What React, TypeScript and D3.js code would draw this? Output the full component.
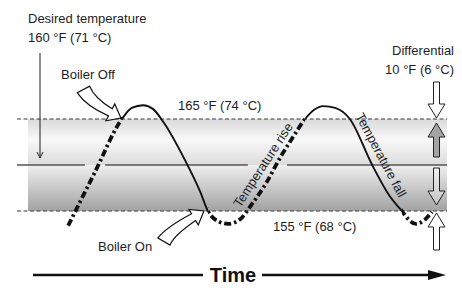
import * as d3 from "d3";

const W = 462,
  H = 288;

// water temperature trace: time (arbitrary units) and °F
const time = [
  11.9, 18.1, 24.4, 26.7, 29.3, 31.6, 34.0, 39.1, 42.6, 44.4, 46.7, 49.1, 51.9,
  54.7, 57.9, 61.2, 64.0, 67.0, 69.1, 71.2, 74.0, 77.4, 82.6, 86.7, 89.5, 91.2,
  92.8, 94.7, 96.5,
];
const temp = [
  153.4, 159.2, 165.0, 166.2, 166.5, 166.1, 164.7, 160.5, 157.1, 155.0, 153.9,
  153.6, 154.1, 155.8, 158.0, 160.8, 162.9, 165.0, 166.0, 166.4, 166.2, 165.0,
  160.0, 156.6, 155.0, 154.0, 153.6, 154.0, 154.9,
];
// boiler switches off at the high limit and back on at the low limit
const boilerOffAt = [24.4, 67.0];
const boilerOnAt = [44.4, 89.5];
const highLimit = 165;
const lowLimit = 155;
const setpoint = 160;
// where the setpoint line is broken (time units)
const midGaps = [
  [15.8, 20.5],
  [53.7, 62.8],
];

const x = d3.scaleLinear([0, 100], [17, 447]);
const y = d3.scaleLinear([lowLimit, highLimit], [211, 119]);

const font = "'Liberation Sans', Arial, Helvetica, sans-serif";
const ink = "#1e1e1e";

type Pt = [number, number];

const norm = (v: Pt): Pt => {
  const l = Math.hypot(v[0], v[1]);
  return [v[0] / l, v[1] / l];
};

// straight vertical block arrow, tip at `to`
function vArrow(cx: number, from: number, to: number, sw = 6, hw = 17, hl = 14) {
  const s = Math.sign(to - from);
  const b = to - s * hl;
  const p = d3.path();
  p.moveTo(cx - sw / 2, from);
  p.lineTo(cx - sw / 2, b);
  p.lineTo(cx - hw / 2, b);
  p.lineTo(cx, to);
  p.lineTo(cx + hw / 2, b);
  p.lineTo(cx + sw / 2, b);
  p.lineTo(cx + sw / 2, from);
  p.closePath();
  return p.toString();
}

// bent block arrow from a tail to a tip
function curvedArrow(
  tail: Pt,
  tailDir: Pt,
  tip: Pt,
  headDir: Pt,
  tailW: number,
  neckW: number,
  headW: number,
  headL: number
) {
  const dT = norm(tailDir);
  const dH = norm(headDir);
  const hb: Pt = [tip[0] - dH[0] * headL, tip[1] - dH[1] * headL];
  const r: Pt = [hb[0] - tail[0], hb[1] - tail[1]];
  const det = dT[0] * dH[1] - dT[1] * dH[0];
  const s = (r[0] * dH[1] - r[1] * dH[0]) / det;
  const c: Pt = [tail[0] + dT[0] * s, tail[1] + dT[1] * s];
  const nT: Pt = [-dT[1], dT[0]];
  const nH: Pt = [-dH[1], dH[0]];
  const nC = norm([nT[0] + nH[0], nT[1] + nH[1]]);
  const cosA = nC[0] * nT[0] + nC[1] * nT[1];
  const mc = (tailW + neckW) / 4 / cosA;
  const at = (o: Pt, n: Pt, k: number): [number, number] => [o[0] + n[0] * k, o[1] + n[1] * k];
  const p = d3.path();
  p.moveTo(...at(tail, nT, tailW / 2));
  p.quadraticCurveTo(...at(c, nC, mc), ...at(hb, nH, neckW / 2));
  p.lineTo(...at(hb, nH, headW / 2));
  p.lineTo(tip[0], tip[1]);
  p.lineTo(...at(hb, nH, -headW / 2));
  p.lineTo(...at(hb, nH, -neckW / 2));
  p.quadraticCurveTo(...at(c, nC, -mc), ...at(tail, nT, -tailW / 2));
  p.closePath();
  return p.toString();
}

export default function App() {
  const pts = time.map((t, i) => [x(t), y(temp[i])] as Pt);
  const trace = d3.line().curve(d3.curveMonotoneX)(pts) ?? "";

  const last = time[time.length - 1];
  const heating = [
    [0, boilerOffAt[0]],
    [boilerOnAt[0], boilerOffAt[1]],
    [boilerOnAt[1], last + 5],
  ];
  const cooling = boilerOffAt.map((t, i) => [t, boilerOnAt[i]]);

  const midSegs: number[][] = [];
  let s0 = 0;
  midGaps.forEach(([a, b]) => {
    midSegs.push([s0, a]);
    s0 = b;
  });
  midSegs.push([s0, 100]);

  const bandL = 28;
  const bandR = x(100);
  const yHi = y(highLimit);
  const yMid = y(setpoint);
  const yLo = y(lowLimit);

  const offTip: Pt = [x(boilerOffAt[0]) - 1, yHi - 1];
  const onTip: Pt = [x(boilerOnAt[0]) - 4, yLo];

  const axX = 436.5;
  const timeY = 275;

  return (
    <svg
      width={W}
      height={H}
      viewBox={`0 0 ${W} ${H}`}
      style={{ position: "absolute", left: 0, top: 0, background: "#fff" }}
      fontFamily={font}
    >
      <defs>
        <linearGradient id="upper" x1="0" y1="0" x2="0" y2="1">
          <stop offset="0" stopColor="#dadada" />
          <stop offset="0.45" stopColor="#f8f8f8" />
          <stop offset="1" stopColor="#dcdcdc" />
        </linearGradient>
        <linearGradient id="lower" x1="0" y1="0" x2="0" y2="1">
          <stop offset="0" stopColor="#efefef" />
          <stop offset="1" stopColor="#a2a2a2" />
        </linearGradient>
        {heating.map(([a, b], i) => (
          <clipPath key={i} id={`heat${i}`}>
            <rect x={x(a)} y={0} width={x(b) - x(a)} height={H} />
          </clipPath>
        ))}
        {cooling.map(([a, b], i) => (
          <clipPath key={i} id={`cool${i}`}>
            <rect x={x(a)} y={0} width={x(b) - x(a)} height={H} />
          </clipPath>
        ))}
      </defs>

      {/* differential band */}
      <rect x={bandL} y={yHi} width={bandR - bandL} height={yMid - yHi} fill="url(#upper)" />
      <rect x={bandL} y={yMid} width={bandR - bandL} height={yLo - yMid} fill="url(#lower)" />
      {[highLimit, lowLimit].map((v) => (
        <line
          key={v}
          x1={x(0)}
          x2={x(100)}
          y1={y(v)}
          y2={y(v)}
          stroke="#3a3a3a"
          strokeWidth={1.2}
          strokeDasharray="4 2.5"
        />
      ))}
      {midSegs.map(([a, b], i) => (
        <line key={i} x1={x(a)} x2={x(b)} y1={yMid} y2={yMid} stroke="#555" strokeWidth={1.3} />
      ))}

      {/* temperature trace */}
      {cooling.map((_, i) => (
        <path key={i} d={trace} fill="none" stroke="#111" strokeWidth={1.9} clipPath={`url(#cool${i})`} />
      ))}
      {heating.map((_, i) => (
        <path
          key={i}
          d={trace}
          fill="none"
          stroke="#111"
          strokeWidth={3.8}
          strokeDasharray="7 3 2.5 3"
          clipPath={`url(#heat${i})`}
        />
      ))}

      {/* desired temperature pointer */}
      <line x1={40} x2={40} y1={53} y2={yMid - 9} stroke={ink} strokeWidth={1} />
      <path d={`M37,${yMid - 13}L40,${yMid - 7}L43,${yMid - 13}`} fill="none" stroke={ink} strokeWidth={1} />

      {/* boiler arrows */}
      <path
        d={curvedArrow([83.5, 89.5], [7, 13], offTip, [17, 9], 14, 8, 19, 12)}
        fill="#fff"
        stroke="#111"
        strokeWidth={1.2}
      />
      <path
        d={curvedArrow([164, 241.5], [7, -12], onTip, [15, -9], 14, 8, 18, 12)}
        fill="#fff"
        stroke="#111"
        strokeWidth={1.2}
      />

      {/* differential arrows */}
      <path d={vArrow(axX, 82, yHi - 1)} fill="#fff" stroke="#222" strokeWidth={1} />
      <path d={vArrow(axX, yMid - 8, yHi + 4)} fill="#a4a4a4" stroke="#222" strokeWidth={1} />
      <path d={vArrow(axX, yMid + 3, yLo - 6)} fill="#fff" fillOpacity={0.3} stroke="#222" strokeWidth={1} />
      <path d={vArrow(axX, 250, yLo + 2)} fill="#fff" stroke="#222" strokeWidth={1} />

      {/* labels */}
      <g fill={ink} fontSize={13}>
        <text x={28} y={23}>Desired temperature</text>
        <text x={28} y={42}>160 °F (71 °C)</text>
        <text x={61} y={79}>Boiler Off</text>
        <text x={178} y={110}>165 °F (74 °C)</text>
        <text x={273} y={231}>155 °F (68 °C)</text>
        <text x={98} y={251}>Boiler On</text>
        <text x={454} y={55} textAnchor="end">Differential</text>
        <text x={454} y={74} textAnchor="end">10 °F (6 °C)</text>
        <text x={263} y={165} textAnchor="middle" dominantBaseline="central" transform="rotate(-57 263 165)">
          Temperature rise
        </text>
        <text x={381} y={155} textAnchor="middle" dominantBaseline="central" transform="rotate(62 381 155)">
          Temperature fall
        </text>
      </g>

      {/* time axis */}
      <line x1={33} x2={203} y1={timeY} y2={timeY} stroke="#111" strokeWidth={2.4} />
      <text x={233} y={timeY + 7} textAnchor="middle" fontSize={20} fontWeight="bold" fill="#111">
        Time
      </text>
      <line x1={262} x2={432} y1={timeY} y2={timeY} stroke="#111" strokeWidth={2.4} />
      <path d={`M428,${timeY - 5}L446,${timeY}L428,${timeY + 5}Z`} fill="#111" />
    </svg>
  );
}
